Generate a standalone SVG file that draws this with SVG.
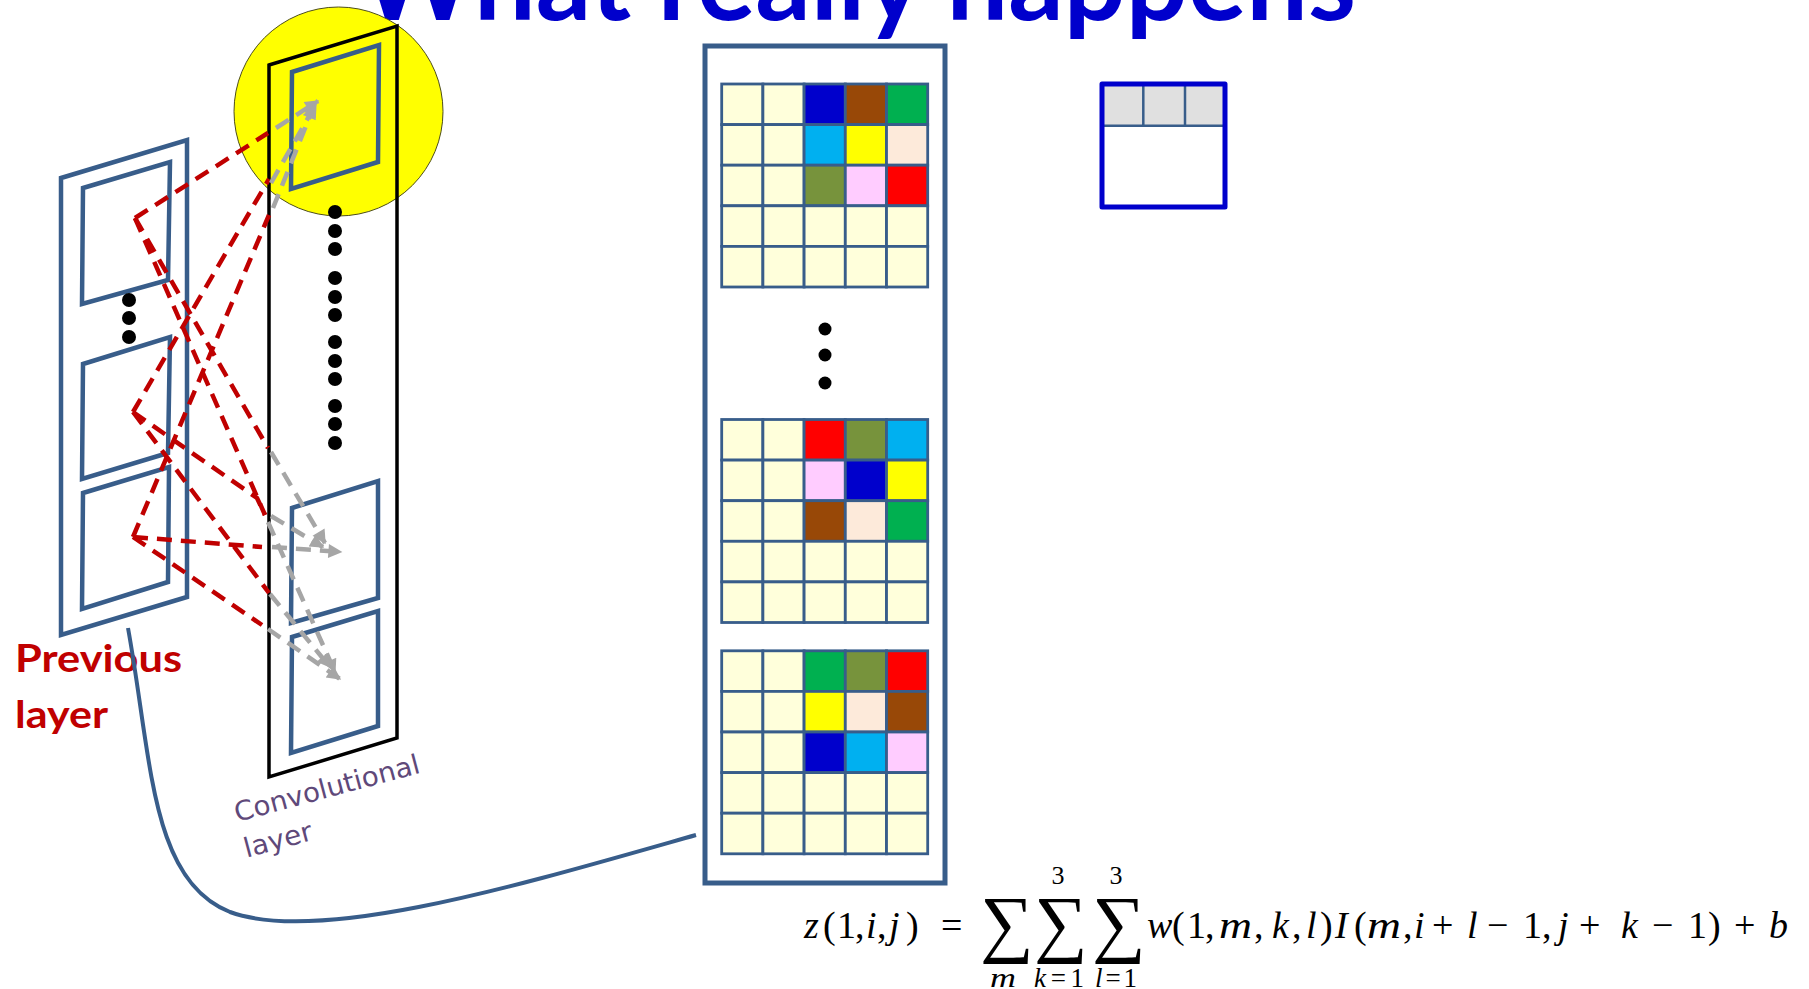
<svg xmlns="http://www.w3.org/2000/svg" width="1809" height="989" viewBox="0 0 1809 989">
<defs>
<style>
.sb{fill:none;stroke:#385D8A;stroke-width:4.5;stroke-linejoin:miter}
.dot{fill:#000}
.c{fill:#FFFFDB;stroke:#385D8A;stroke-width:2.8}
.b{fill:#0000CC}.br{fill:#984807}.g{fill:#00B050}.cy{fill:#00B0F0}.y{fill:#FFFF00}.pe{fill:#FDEADA}.o{fill:#77933C}.pk{fill:#FFCCFF}.r{fill:#FF0000}
.red{fill:none;stroke:#C00000;stroke-width:4.5;stroke-dasharray:15 9}
.gray{fill:none;stroke:#A6A6A6;stroke-width:4.5;stroke-dasharray:15 9;marker-end:url(#ga)}
.eq{font-family:"Liberation Serif","Times New Roman",serif;fill:#000}
.it{font-style:italic}
</style>
<marker id="ga" viewBox="0 0 10 10" refX="9" refY="5" markerWidth="17" markerHeight="14" markerUnits="userSpaceOnUse" orient="auto"><path d="M0,0 L10,5 L0,10 z" fill="#A6A6A6"/></marker>
</defs>
<rect width="1809" height="989" fill="#fff"/>

<g id="title">
<text x="360" y="20" font-family="Lato,'Liberation Sans',sans-serif" font-weight="bold" font-size="112" fill="#0000CC" textLength="996" lengthAdjust="spacingAndGlyphs">What really happens</text>
</g>

<g id="conv-layer">
<circle cx="338.5" cy="111.5" r="104.5" fill="#FFFF00" stroke="#4D4D1A" stroke-width="1"/>
<polygon points="269,65 397,26 397,738 269,777" fill="none" stroke="#000" stroke-width="3.5"/>
<polygon class="sb" points="292,72 379,45 378,162 291,189"/>
<polygon class="sb" points="292,508 378,481 378,598 291,623"/>
<polygon class="sb" points="292,637 378,611 378,726 291,753"/>
<g class="dot">
<circle cx="335" cy="212" r="7"/><circle cx="335" cy="231" r="7"/><circle cx="335" cy="249" r="7"/>
<circle cx="335" cy="278" r="7"/><circle cx="335" cy="297" r="7"/><circle cx="335" cy="315" r="7"/>
<circle cx="335" cy="342" r="7"/><circle cx="335" cy="361" r="7"/><circle cx="335" cy="379" r="7"/>
<circle cx="335" cy="406" r="7"/><circle cx="335" cy="424" r="7"/><circle cx="335" cy="443" r="7"/>
</g>
</g>

<g id="previous-layer">
<polygon class="sb" points="61,178 187,140 187,597 61,635" stroke-width="5"/>
<polygon class="sb" points="83,188 170,162 168,280 82,304"/>
<polygon class="sb" points="83,364 170,337 168,453 82,479"/>
<polygon class="sb" points="83,493 169,467 168,582 82,609"/>
<g class="dot">
<circle cx="129" cy="300" r="7"/><circle cx="129" cy="318" r="7"/><circle cx="129" cy="337" r="7"/>
</g>
</g>

<g id="connectors">
<polyline class="red" points="135,218 268,133"/>
<polyline class="red" points="135,218 268,448"/>
<polyline class="red" points="135,218 265,515"/>
<polyline class="red" points="133,412 269,179"/>
<polyline class="red" points="133,412 257,498 265,515"/>
<polyline class="red" points="133,412 269,593"/>
<polyline class="red" points="133,537 269,215"/>
<polyline class="red" points="133,537 262,547"/>
<polyline class="red" points="133,537 262,625"/>
<line class="gray" x1="276" y1="128" x2="318" y2="101"/>
<line class="gray" x1="271" y1="183" x2="316" y2="104"/>
<line class="gray" x1="273" y1="208" x2="314" y2="106"/>
<line class="gray" x1="271" y1="452" x2="325" y2="543"/>
<line class="gray" x1="271" y1="516" x2="323" y2="547"/>
<line class="gray" x1="272" y1="547" x2="341" y2="552"/>
<line class="gray" x1="268" y1="522" x2="335" y2="672"/>
<line class="gray" x1="270" y1="594" x2="330" y2="667"/>
<line class="gray" x1="268" y1="629" x2="340" y2="679"/>
</g>

<g id="labels">
<text x="15" y="672" font-family="Lato,'Liberation Sans',sans-serif" font-weight="bold" font-size="38" fill="#C00000" textLength="167" lengthAdjust="spacingAndGlyphs">Previous</text>
<text x="15" y="728" font-family="Lato,'Liberation Sans',sans-serif" font-weight="bold" font-size="38" fill="#C00000" textLength="93" lengthAdjust="spacingAndGlyphs">layer</text>
<g transform="translate(237,822) rotate(-15)" font-family="'DejaVu Sans',sans-serif" font-size="27" fill="#5F497A">
<text x="0" y="0" textLength="191" lengthAdjust="spacingAndGlyphs">Convolutional</text>
<text x="0" y="37" textLength="70" lengthAdjust="spacingAndGlyphs">layer</text>
</g>
</g>

<g id="link">
<path d="M128,628 C152,760 150,880 230,912 C320,945 520,885 696,835" fill="none" stroke="#385D8A" stroke-width="4"/>
</g>

<g id="feature-maps">
<rect x="705" y="46" width="240" height="837" fill="#fff" stroke="#385D8A" stroke-width="5"/>
<g transform="translate(721.7,84)">
<rect class="c" x="0" y="0" width="41.2" height="40.6"/><rect class="c" x="41.2" y="0" width="41.2" height="40.6"/><rect class="c b" x="82.4" y="0" width="41.2" height="40.6"/><rect class="c br" x="123.6" y="0" width="41.2" height="40.6"/><rect class="c g" x="164.8" y="0" width="41.2" height="40.6"/>
<rect class="c" x="0" y="40.6" width="41.2" height="40.6"/><rect class="c" x="41.2" y="40.6" width="41.2" height="40.6"/><rect class="c cy" x="82.4" y="40.6" width="41.2" height="40.6"/><rect class="c y" x="123.6" y="40.6" width="41.2" height="40.6"/><rect class="c pe" x="164.8" y="40.6" width="41.2" height="40.6"/>
<rect class="c" x="0" y="81.2" width="41.2" height="40.6"/><rect class="c" x="41.2" y="81.2" width="41.2" height="40.6"/><rect class="c o" x="82.4" y="81.2" width="41.2" height="40.6"/><rect class="c pk" x="123.6" y="81.2" width="41.2" height="40.6"/><rect class="c r" x="164.8" y="81.2" width="41.2" height="40.6"/>
<rect class="c" x="0" y="121.8" width="41.2" height="40.6"/><rect class="c" x="41.2" y="121.8" width="41.2" height="40.6"/><rect class="c" x="82.4" y="121.8" width="41.2" height="40.6"/><rect class="c" x="123.6" y="121.8" width="41.2" height="40.6"/><rect class="c" x="164.8" y="121.8" width="41.2" height="40.6"/>
<rect class="c" x="0" y="162.4" width="41.2" height="40.6"/><rect class="c" x="41.2" y="162.4" width="41.2" height="40.6"/><rect class="c" x="82.4" y="162.4" width="41.2" height="40.6"/><rect class="c" x="123.6" y="162.4" width="41.2" height="40.6"/><rect class="c" x="164.8" y="162.4" width="41.2" height="40.6"/>
</g>
<g class="dot"><circle cx="825" cy="329" r="6.5"/><circle cx="825" cy="355" r="6.5"/><circle cx="825" cy="383" r="6.5"/></g>
<g transform="translate(721.7,419.5)">
<rect class="c" x="0" y="0" width="41.2" height="40.6"/><rect class="c" x="41.2" y="0" width="41.2" height="40.6"/><rect class="c r" x="82.4" y="0" width="41.2" height="40.6"/><rect class="c o" x="123.6" y="0" width="41.2" height="40.6"/><rect class="c cy" x="164.8" y="0" width="41.2" height="40.6"/>
<rect class="c" x="0" y="40.6" width="41.2" height="40.6"/><rect class="c" x="41.2" y="40.6" width="41.2" height="40.6"/><rect class="c pk" x="82.4" y="40.6" width="41.2" height="40.6"/><rect class="c b" x="123.6" y="40.6" width="41.2" height="40.6"/><rect class="c y" x="164.8" y="40.6" width="41.2" height="40.6"/>
<rect class="c" x="0" y="81.2" width="41.2" height="40.6"/><rect class="c" x="41.2" y="81.2" width="41.2" height="40.6"/><rect class="c br" x="82.4" y="81.2" width="41.2" height="40.6"/><rect class="c pe" x="123.6" y="81.2" width="41.2" height="40.6"/><rect class="c g" x="164.8" y="81.2" width="41.2" height="40.6"/>
<rect class="c" x="0" y="121.8" width="41.2" height="40.6"/><rect class="c" x="41.2" y="121.8" width="41.2" height="40.6"/><rect class="c" x="82.4" y="121.8" width="41.2" height="40.6"/><rect class="c" x="123.6" y="121.8" width="41.2" height="40.6"/><rect class="c" x="164.8" y="121.8" width="41.2" height="40.6"/>
<rect class="c" x="0" y="162.4" width="41.2" height="40.6"/><rect class="c" x="41.2" y="162.4" width="41.2" height="40.6"/><rect class="c" x="82.4" y="162.4" width="41.2" height="40.6"/><rect class="c" x="123.6" y="162.4" width="41.2" height="40.6"/><rect class="c" x="164.8" y="162.4" width="41.2" height="40.6"/>
</g>
<g transform="translate(721.7,650.8)">
<rect class="c" x="0" y="0" width="41.2" height="40.6"/><rect class="c" x="41.2" y="0" width="41.2" height="40.6"/><rect class="c g" x="82.4" y="0" width="41.2" height="40.6"/><rect class="c o" x="123.6" y="0" width="41.2" height="40.6"/><rect class="c r" x="164.8" y="0" width="41.2" height="40.6"/>
<rect class="c" x="0" y="40.6" width="41.2" height="40.6"/><rect class="c" x="41.2" y="40.6" width="41.2" height="40.6"/><rect class="c y" x="82.4" y="40.6" width="41.2" height="40.6"/><rect class="c pe" x="123.6" y="40.6" width="41.2" height="40.6"/><rect class="c br" x="164.8" y="40.6" width="41.2" height="40.6"/>
<rect class="c" x="0" y="81.2" width="41.2" height="40.6"/><rect class="c" x="41.2" y="81.2" width="41.2" height="40.6"/><rect class="c b" x="82.4" y="81.2" width="41.2" height="40.6"/><rect class="c cy" x="123.6" y="81.2" width="41.2" height="40.6"/><rect class="c pk" x="164.8" y="81.2" width="41.2" height="40.6"/>
<rect class="c" x="0" y="121.8" width="41.2" height="40.6"/><rect class="c" x="41.2" y="121.8" width="41.2" height="40.6"/><rect class="c" x="82.4" y="121.8" width="41.2" height="40.6"/><rect class="c" x="123.6" y="121.8" width="41.2" height="40.6"/><rect class="c" x="164.8" y="121.8" width="41.2" height="40.6"/>
<rect class="c" x="0" y="162.4" width="41.2" height="40.6"/><rect class="c" x="41.2" y="162.4" width="41.2" height="40.6"/><rect class="c" x="82.4" y="162.4" width="41.2" height="40.6"/><rect class="c" x="123.6" y="162.4" width="41.2" height="40.6"/><rect class="c" x="164.8" y="162.4" width="41.2" height="40.6"/>
</g>
</g>

<g id="filter-box">
<rect x="1102" y="84" width="123" height="41.7" fill="#E0E0E0"/>
<path d="M1102,125.7 H1225 M1143.3,84 V125.7 M1185,84 V125.7" stroke="#385D8A" stroke-width="2.5" fill="none"/>
<rect x="1102" y="84" width="123" height="123" fill="none" stroke="#0000CC" stroke-width="5" stroke-linejoin="round"/>
</g>

<g id="equation">
<text class="eq" y="938" style="font-size:38px"><tspan x="804" class="it">z</tspan><tspan x="823">(</tspan><tspan x="837">1</tspan><tspan x="855">,</tspan><tspan x="866" class="it">i</tspan><tspan x="877">,</tspan><tspan x="889" class="it">j</tspan><tspan x="906">)</tspan><tspan x="941">=</tspan></text>
<text class="eq" y="948" style="font-size:75px"><tspan x="980">∑</tspan><tspan x="1034">∑</tspan><tspan x="1092">∑</tspan></text>
<text class="eq" y="884" style="font-size:26px" text-anchor="middle"><tspan x="1058">3</tspan><tspan x="1116">3</tspan></text>
<text class="eq it" x="990" y="987" style="font-size:27px" textLength="26" lengthAdjust="spacingAndGlyphs">m</text>
<text class="eq" x="1034" y="987" style="font-size:27px" textLength="50" lengthAdjust="spacing"><tspan class="it">k</tspan>=1</text>
<text class="eq" x="1095" y="987" style="font-size:27px" textLength="42" lengthAdjust="spacing"><tspan class="it">l</tspan>=1</text>
<text class="eq" y="938" style="font-size:38px"><tspan x="1147" class="it">w</tspan><tspan x="1172">(</tspan><tspan x="1187">1</tspan><tspan x="1205">,</tspan><tspan x="1219" class="it" textLength="33" lengthAdjust="spacingAndGlyphs">m</tspan><tspan x="1254">,</tspan><tspan x="1272" class="it">k</tspan><tspan x="1292">,</tspan><tspan x="1306" class="it">l</tspan><tspan x="1320">)</tspan><tspan x="1335" class="it">I</tspan><tspan x="1354">(</tspan><tspan x="1367" class="it" textLength="34" lengthAdjust="spacingAndGlyphs">m</tspan><tspan x="1403">,</tspan><tspan x="1414" class="it">i</tspan><tspan x="1432">+</tspan><tspan x="1467" class="it">l</tspan><tspan x="1487">−</tspan><tspan x="1523">1</tspan><tspan x="1542">,</tspan><tspan x="1558" class="it">j</tspan><tspan x="1579">+</tspan><tspan x="1621" class="it">k</tspan><tspan x="1652">−</tspan><tspan x="1688">1</tspan><tspan x="1708">)</tspan><tspan x="1734">+</tspan><tspan x="1769" class="it">b</tspan></text>
</g>
</svg>
